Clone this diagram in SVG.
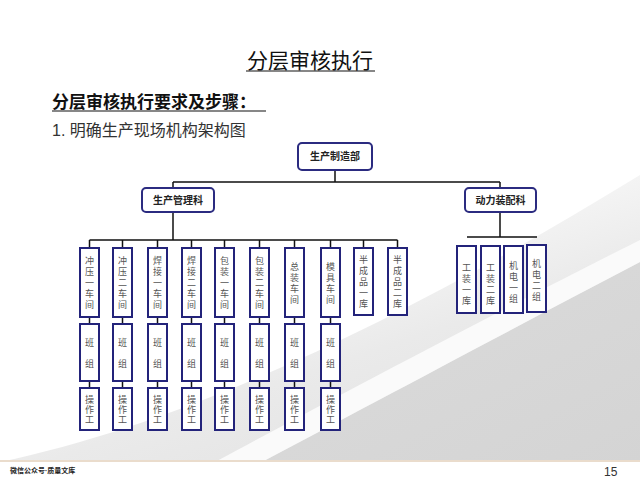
<svg xmlns="http://www.w3.org/2000/svg" width="640" height="480" viewBox="0 0 640 480">
<defs>
<linearGradient id="bg1" x1="0.3" y1="0.2" x2="0.9" y2="1">
<stop offset="0" stop-color="#ffffff"/>
<stop offset="0.5" stop-color="#eaeaea"/>
<stop offset="1" stop-color="#e0e0e0"/>
</linearGradient>
<linearGradient id="bg2" x1="0" y1="0" x2="1" y2="1">
<stop offset="0" stop-color="#dcdcdc"/>
<stop offset="1" stop-color="#d4d4d4"/>
</linearGradient>
<style>
.box{fill:#fff;stroke:#23237a;stroke-width:2}
.top{fill:#fff;stroke:#2b2b80;stroke-width:2}
.ln{fill:none;stroke:#111;stroke-width:1.5}
.v{font-family:"Noto Sans CJK SC","Liberation Sans",sans-serif;font-size:9px;fill:#555;text-anchor:middle;writing-mode:vertical-rl;letter-spacing:2px}
.v2{letter-spacing:12px}
.v3{letter-spacing:1px}
.tb{font-family:"Liberation Sans","Noto Sans CJK SC",sans-serif;font-size:10px;font-weight:bold;fill:#222;text-anchor:middle}
</style>
</defs>
<rect width="640" height="480" fill="#fff"/>
<path d="M0,462 C200,420 420,310 640,175 L640,462 Z" fill="url(#bg1)"/>
<path d="M262,462 C360,410 510,330 640,262 L640,462 Z" fill="url(#bg2)"/>
<path d="M215,462 C330,400 500,310 640,240 L640,262 C510,330 360,410 262,462 Z" fill="#fafafa"/>
<rect x="0" y="460" width="640" height="20" fill="#fff"/>
<line x1="0" y1="461" x2="640" y2="461" stroke="#eadccc" stroke-width="2"/>
<text x="10" y="473" font-family="Liberation Sans,'Noto Sans CJK SC',sans-serif" font-size="7" font-weight="bold" fill="#222">微信公众号·质量文库</text>
<text x="604" y="476" font-family="Liberation Sans,sans-serif" font-size="12" fill="#333">15</text>

<text x="310" y="68" font-family="'Liberation Sans','Noto Sans CJK SC',sans-serif" font-size="21" fill="#111" text-anchor="middle">分层审核执行</text>
<line x1="246" y1="71" x2="375" y2="71" stroke="#111" stroke-width="1.2"/>
<text x="52" y="108" font-family="'Liberation Sans','Noto Sans CJK SC',sans-serif" font-size="17" font-weight="bold" fill="#111">分层审核执行要求及步骤：</text>
<line x1="52" y1="111" x2="266" y2="111" stroke="#111" stroke-width="1.2"/>
<text x="52" y="136" font-family="'Liberation Sans','Noto Sans CJK SC',sans-serif" font-size="16" fill="#333">1. 明确生产现场机构架构图</text>

<g id="connectors">
<path class="ln" d="M335,170 V182 M173,182 H500 M173,182 V188 M500,182 V188 M173,212 V240 M89.5,240 H397.5 M500,212 V237 M467,237 H537"/>
<path class="ln" d="M89.5,240 V248 M122.5,240 V248 M157.5,240 V248 M191.5,240 V248 M224.5,240 V248 M259.5,240 V248 M294.5,240 V248 M330.5,240 V248 M363.5,240 V248 M397.5,240 V248"/>
<path class="ln" d="M89.5,317 V324 M122.5,317 V324 M157.5,317 V324 M191.5,317 V324 M224.5,317 V324 M259.5,317 V324 M294.5,317 V324 M330.5,317 V324"/>
<path class="ln" d="M89.5,381 V388 M122.5,381 V388 M157.5,381 V388 M191.5,381 V388 M224.5,381 V388 M259.5,381 V388 M294.5,381 V388 M330.5,381 V388"/>
</g>

<g id="n-zhizao"><rect class="top" x="298" y="143" width="74" height="27" rx="4"/><text class="tb" x="335" y="160">生产制造部</text></g>
<g id="n-guanli"><rect class="top" x="142" y="188" width="72" height="24" rx="4"/><text class="tb" x="178" y="204">生产管理科</text></g>
<g id="n-dongli"><rect class="top" x="465" y="188" width="71" height="24" rx="4"/><text class="tb" x="500.5" y="204">动力装配科</text></g>

<g id="n-c1"><rect class="box" x="80" y="248" width="19" height="69"/><text class="v" x="89.5" y="284">冲压一车间</text></g>
<g id="n-c2"><rect class="box" x="113" y="248" width="19" height="69"/><text class="v" x="122.5" y="284">冲压二车间</text></g>
<g id="n-c3"><rect class="box" x="148" y="248" width="19" height="69"/><text class="v" x="157.5" y="284">焊接一车间</text></g>
<g id="n-c4"><rect class="box" x="182" y="248" width="19" height="69"/><text class="v" x="191.5" y="284">焊接二车间</text></g>
<g id="n-c5"><rect class="box" x="215" y="248" width="19" height="69"/><text class="v" x="224.5" y="284">包装一车间</text></g>
<g id="n-c6"><rect class="box" x="250" y="248" width="19" height="69"/><text class="v" x="259.5" y="284">包装二车间</text></g>
<g id="n-c7"><rect class="box" x="285" y="248" width="19" height="69"/><text class="v" x="294.5" y="284">总装车间</text></g>
<g id="n-c8"><rect class="box" x="321" y="248" width="19" height="69"/><text class="v" x="330.5" y="284">模具车间</text></g>
<g id="n-c9"><rect class="box" x="354" y="248" width="19" height="67"/><text class="v" x="363.5" y="283">半成品一库</text></g>
<g id="n-c10"><rect class="box" x="388" y="248" width="19" height="67"/><text class="v" x="397.5" y="283">半成品二库</text></g>

<g id="n-r1"><rect class="box" x="457" y="246" width="19" height="67"/><text class="v" x="466.5" y="285">工装一库</text></g>
<g id="n-r2"><rect class="box" x="481" y="246" width="19" height="67"/><text class="v" x="490.5" y="285">工装二库</text></g>
<g id="n-r3"><rect class="box" x="504" y="246" width="19" height="67"/><text class="v" x="513.5" y="283">机电一组</text></g>
<g id="n-r4"><rect class="box" x="527" y="245" width="19" height="67"/><text class="v" x="536.5" y="281">机电二组</text></g>

<g id="n-b1"><rect class="box" x="80" y="324" width="19" height="57"/><text class="v v2" x="89.5" y="359">班组</text></g>
<g id="n-b2"><rect class="box" x="113" y="324" width="19" height="57"/><text class="v v2" x="122.5" y="359">班组</text></g>
<g id="n-b3"><rect class="box" x="148" y="324" width="19" height="57"/><text class="v v2" x="157.5" y="359">班组</text></g>
<g id="n-b4"><rect class="box" x="182" y="324" width="19" height="57"/><text class="v v2" x="191.5" y="359">班组</text></g>
<g id="n-b5"><rect class="box" x="215" y="324" width="19" height="57"/><text class="v v2" x="224.5" y="359">班组</text></g>
<g id="n-b6"><rect class="box" x="250" y="324" width="19" height="57"/><text class="v v2" x="259.5" y="359">班组</text></g>
<g id="n-b7"><rect class="box" x="285" y="324" width="19" height="57"/><text class="v v2" x="294.5" y="359">班组</text></g>
<g id="n-b8"><rect class="box" x="321" y="324" width="19" height="57"/><text class="v v2" x="330.5" y="359">班组</text></g>

<g id="n-o1"><rect class="box" x="80" y="388" width="19" height="42"/><text class="v v3" x="89.5" y="410">操作工</text></g>
<g id="n-o2"><rect class="box" x="113" y="388" width="19" height="42"/><text class="v v3" x="122.5" y="410">操作工</text></g>
<g id="n-o3"><rect class="box" x="148" y="388" width="19" height="42"/><text class="v v3" x="157.5" y="410">操作工</text></g>
<g id="n-o4"><rect class="box" x="182" y="388" width="19" height="42"/><text class="v v3" x="191.5" y="410">操作工</text></g>
<g id="n-o5"><rect class="box" x="215" y="388" width="19" height="42"/><text class="v v3" x="224.5" y="410">操作工</text></g>
<g id="n-o6"><rect class="box" x="250" y="388" width="19" height="42"/><text class="v v3" x="259.5" y="410">操作工</text></g>
<g id="n-o7"><rect class="box" x="285" y="388" width="19" height="42"/><text class="v v3" x="294.5" y="410">操作工</text></g>
<g id="n-o8"><rect class="box" x="321" y="388" width="19" height="42"/><text class="v v3" x="330.5" y="410">操作工</text></g>
</svg>
